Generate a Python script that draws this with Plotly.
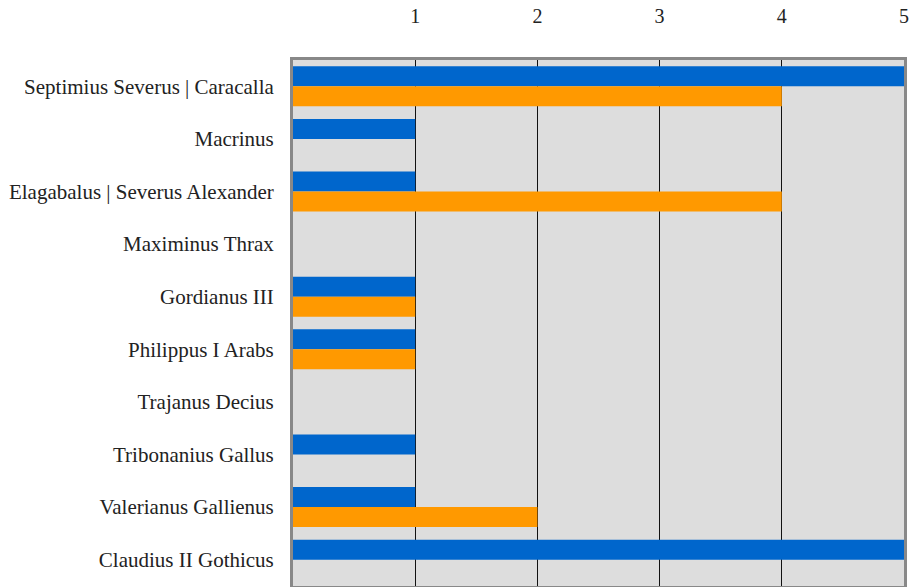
import plotly.graph_objects as go

categories = [
    "Septimius Severus | Caracalla",
    "Macrinus",
    "Elagabalus | Severus Alexander",
    "Maximinus Thrax",
    "Gordianus III",
    "Philippus I Arabs",
    "Trajanus Decius",
    "Tribonanius Gallus",
    "Valerianus Gallienus",
    "Claudius II Gothicus",
]
series_blue = [5, 1, 1, 0, 1, 1, 0, 1, 1, 5]
series_orange = [4, 0, 4, 0, 1, 1, 0, 0, 2, 0]
tick_vals = [1, 2, 3, 4, 5]
tick_text = ["1", "2", "3", "4", "5"]

fig = go.Figure()
fig.add_trace(go.Bar(y=categories, x=series_blue, orientation="h",
                     marker=dict(color="#0066CC", line=dict(width=0)), name="A"))
fig.add_trace(go.Bar(y=categories, x=series_orange, orientation="h",
                     marker=dict(color="#FF9900", line=dict(width=0)), name="B"))

fig.update_layout(
    width=914, height=587,
    margin=dict(l=293, r=10, t=60, b=1),
    barmode="group", bargap=0.24, bargroupgap=0,
    plot_bgcolor="#DDDDDD", paper_bgcolor="white",
    showlegend=False,
    font=dict(family="Liberation Serif, DejaVu Serif, serif", size=21, color="#222222"),
    xaxis=dict(side="top", range=[0, 5], tickvals=tick_vals, ticktext=tick_text,
               showgrid=True, gridcolor="#111111", gridwidth=1, zeroline=False,
               showline=True, linecolor="#888888", linewidth=3, mirror=True,
               ticks="", ticklabelstandoff=26, fixedrange=True, automargin=False,
               tickfont=dict(size=20)),
    yaxis=dict(autorange="reversed", showgrid=False, zeroline=False,
               showline=True, linecolor="#888888", linewidth=3, mirror=True,
               ticks="", ticklabelstandoff=12, fixedrange=True, automargin=False),
)

fig.write_html(
    "out.html",
    config={"displayModeBar": False},
    post_script="document.body.style.margin='0';document.body.style.overflow='hidden';",
)
